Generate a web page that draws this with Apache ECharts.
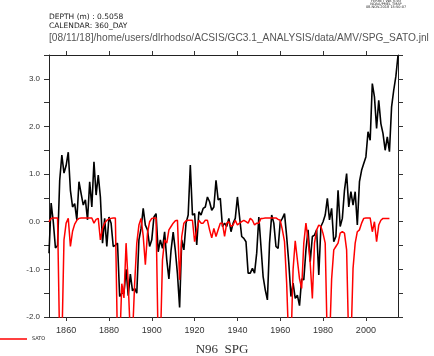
<!DOCTYPE html>
<html><head><meta charset="utf-8">
<script src="https://cdn.jsdelivr.net/npm/echarts@6/dist/echarts.min.js"></script>
<style>html,body{margin:0;padding:0;background:#fff}#c{width:434px;height:356px}</style>
</head><body><div id="c"></div>
<script>
// Years 1852..2015 (annual)
const startYear = 1852;
const xTicks = [1860, 1880, 1900, 1920, 1940, 1960, 1980, 2000];
const yLabels = [-2, -1, 0, 1, 2, 3];
// Black series (SPG index), 1852-2015
const spg = [
  -0.66, 0.39, 0.0, -0.55, -0.5, 0.87, 1.40, 1.02,            // 1852-1859
  1.18, 1.46, 0.66, 0.31, 0.38, 0.04, 0.84, 0.59, 0.35, 0.46,  // 1860s
  0.04, 0.84, 0.31, 1.26, 0.56, 0.98, 0.52, -0.45, 0.07, -0.52, // 1870s
  0.1, -0.03, -0.52, -0.49, -0.45, -1.57, -1.5, -1.5, -1.0, -1.55, // 1880s
  -1.1, -1.45, -1.4, -1.5, -0.38, -0.14, 0.28, -0.07, -0.17, -0.52, // 1890s
  -0.38, 0.1, 0.17, -0.63, -0.38, -0.56, -0.21, -0.8, -1.2, -0.6, // 1900s
  -0.22, -0.6, -1.1, -1.8, -0.38, -0.59, -0.03, 0.14, 1.19, 0.14, // 1910s
  0.17, -0.49, 0.21, 0.14, 0.28, 0.31, 0.52, 0.42, 0.24, 0.31,   // 1920s
  0.87, 0.46, 0.49, -0.1, -0.03, -0.1, 0.07, -0.21, -0.03, 0.07, // 1930s
  0.52, 0.1, -0.31, -0.35, -0.42, -1.08, -1.08, -0.98, -1.08, -0.66, // 1940s
  0.1, -0.52, -1.15, -1.43, -1.64, -0.45, 0.14, -0.03, -0.52, -0.56, // 1950s
  0.0, 0.07, 0.17, -0.31, -0.87, -1.57, -1.29, -1.61, -1.54, -1.76, // 1960s
  -1.2, -1.22, -0.59, -0.17, -0.84, -0.31, -0.28, -0.17, -1.12, -0.1, // 1970s
  0.0, 0.14, 0.49, 0.04, 0.28, -0.42, -0.31, 0.66, -0.1, 0.07,   // 1980s
  0.66, 1.01, 0.31, 0.63, 0.35, 0.63, -0.07, 0.84, 1.08, 1.22,   // 1990s
  1.36, 1.89, 1.71, 2.9, 2.62, 1.96, 2.55, 2.06, 1.85, 1.5,      // 2000s
  1.78, 1.47, 2.41, 2.76, 3.05, 3.49                              // 2010-2015
];
// Red series (SATO), 1852-2011
const sato = [
  0.0, 0.07, 0.08, 0.08, 0.08, -2.6, -2.6, -0.38,               // 1852-1859
  -0.03, 0.07, -0.52, -0.2, -0.05, 0.03, 0.07, 0.08, 0.08, 0.08, // 1860s
  0.08, 0.08, 0.08, -0.03, 0.05, 0.07, -0.38, -0.14, -0.03, 0.03, // 1870s
  0.06, 0.07, 0.08, 0.08, -2.6, -2.6, -1.3, -1.6, -0.45, -1.3,  // 1880s
  -2.4, -2.4, -1.3, -0.45, -0.07, 0.07, -0.3, -0.9, -0.24, 0.0, // 1890s
  0.07, 0.08, 0.08, -2.6, -2.6, -0.8, -0.38, -0.45, -0.17, -0.1, // 1900s
  -0.03, 0.02, 0.03, -1.22, -0.31, -0.03, 0.02, 0.03, 0.03, 0.03, // 1910s
  -0.42, -0.17, 0.03, -0.03, -0.03, 0.03, 0.03, -0.17, -0.34, -0.14, // 1920s
  -0.31, -0.17, -0.03, -0.03, -0.31, -0.03, 0.0, -0.1, -0.07, 0.03, // 1930s
  -0.07, -0.03, 0.0, 0.03, 0.0, -0.03, 0.07, 0.03, -0.07, -0.03, // 1940s
  -0.03, 0.07, 0.07, 0.08, 0.08, 0.08, 0.08, 0.08, 0.08, 0.05,   // 1950s
  0.03, -0.17, -0.42, -1.29, -2.6, -2.6, -1.0, -0.4, -0.8, -1.2, // 1960s
  -1.4, -0.45, -0.03, -0.38, -0.87, -1.61, -0.45, -0.17, -0.07, -0.1, // 1970s
  -0.25, -0.45, -2.6, -2.6, -1.2, -0.59, -0.52, -0.45, -0.24, -0.21, // 1980s
  -0.24, -0.59, -2.6, -2.6, -0.98, -0.45, -0.21, -0.17, -0.03, 0.07, // 1990s
  0.08, 0.08, 0.08, -0.21, 0.0, -0.42, -0.07, 0.03, 0.07, 0.07,  // 2000s
  0.07, 0.07                                                      // 2010-2011
];

const spgData = spg.map((v, i) => [startYear + i, v]);
const satoData = sato.map((v, i) => [startYear + i, v]);

const chart = echarts.init(document.getElementById('c'), null, {renderer: 'canvas'});
const axisLineStyle = {color: '#222', width: 1};
const tickStyle = {color: '#333', width: 1};
const yTickVals = [-2, -1.5, -1, -0.5, 0, 0.5, 1, 1.5, 2, 2.5, 3, 3.5];

chart.setOption({
  animation: false,
  backgroundColor: '#fff',
  grid: {left: 49, top: 55, width: 349, height: 262, containLabel: false},
  xAxis: [
    {type: 'value', min: startYear, max: 2015, position: 'bottom',
     axisLine: {show: true, onZero: false, lineStyle: axisLineStyle},
     axisTick: {show: true, customValues: xTicks, length: 4, lineStyle: tickStyle},
     axisLabel: {customValues: xTicks, formatter: v => String(v), margin: 9, fontSize: 9, color: '#333', fontFamily: 'Liberation Sans, Arial, sans-serif'},
     splitLine: {show: false}},
    {type: 'value', min: startYear, max: 2015, position: 'top',
     axisLine: {show: true, onZero: false, lineStyle: axisLineStyle},
     axisTick: {show: true, customValues: xTicks, length: 4, lineStyle: tickStyle},
     axisLabel: {show: false}, splitLine: {show: false}}
  ],
  yAxis: [
    {type: 'value', min: -2, max: 3.5, position: 'left',
     axisLine: {show: true, onZero: false, lineStyle: axisLineStyle},
     axisTick: {show: true, customValues: yTickVals, length: 5, lineStyle: tickStyle},
     axisLabel: {customValues: yLabels, formatter: v => v.toFixed(1), margin: 9, fontSize: 8, color: '#333', fontFamily: 'Liberation Sans, Arial, sans-serif'},
     splitLine: {show: false}},
    {type: 'value', min: -2, max: 3.5, position: 'right',
     axisLine: {show: true, onZero: false, lineStyle: axisLineStyle},
     axisTick: {show: true, customValues: yTickVals, length: 5, lineStyle: tickStyle},
     axisLabel: {show: false}, splitLine: {show: false}}
  ],
  series: [
    {name: 'SPG', type: 'line', data: spgData, xAxisIndex: 0, yAxisIndex: 0,
     showSymbol: false, symbol: 'none', clip: true,
     lineStyle: {color: '#000', width: 1.6}, z: 2},
    {name: 'SATO', type: 'line', data: satoData, xAxisIndex: 0, yAxisIndex: 0,
     showSymbol: false, symbol: 'none', clip: true,
     lineStyle: {color: '#ff0000', width: 1.5}, z: 3}
  ],
  graphic: [
    {type: 'text', left: 49, top: 13, style: {text: 'DEPTH (m) : 0.5058', fontSize: 7.5, fontFamily: 'DejaVu Sans, sans-serif', fill: '#222'}},
    {type: 'text', left: 49, top: 22, style: {text: 'CALENDAR: 360_DAY', fontSize: 7.5, fontFamily: 'DejaVu Sans, sans-serif', fill: '#222'}},
    {type: 'text', x: 49, y: 32, scaleX: 0.925, style: {text: '[08/11/18]/home/users/dlrhodso/ACSIS/GC3.1_ANALYSIS/data/AMV/SPG_SATO.jnl', fontSize: 11, fontFamily: 'Liberation Sans, Arial, sans-serif', fill: '#555'}},
    {type: 'text', x: 386, y: 0, style: {text: 'FERRET Ver. 6.93\nNOAA/PMEL TMAP\n08-NOV-2018 15:50:07', fontSize: 3.5, lineHeight: 3, align: 'center', fontFamily: 'DejaVu Sans, sans-serif', fill: '#222'}},
    {type: 'line', shape: {x1: 0, y1: 339, x2: 27, y2: 339}, style: {stroke: '#ff0000', lineWidth: 1.5}},
    {type: 'text', x: 32, y: 339, style: {text: 'SATO', fontSize: 5, verticalAlign: 'middle', fontFamily: 'DejaVu Sans, sans-serif', fill: '#222'}},
    {type: 'text', x: 222, y: 350, style: {text: 'N96  SPG', fontSize: 13, align: 'center', verticalAlign: 'middle', fontFamily: 'Liberation Serif, Times New Roman, serif', fill: '#333'}}
  ]
});
</script></body></html>
